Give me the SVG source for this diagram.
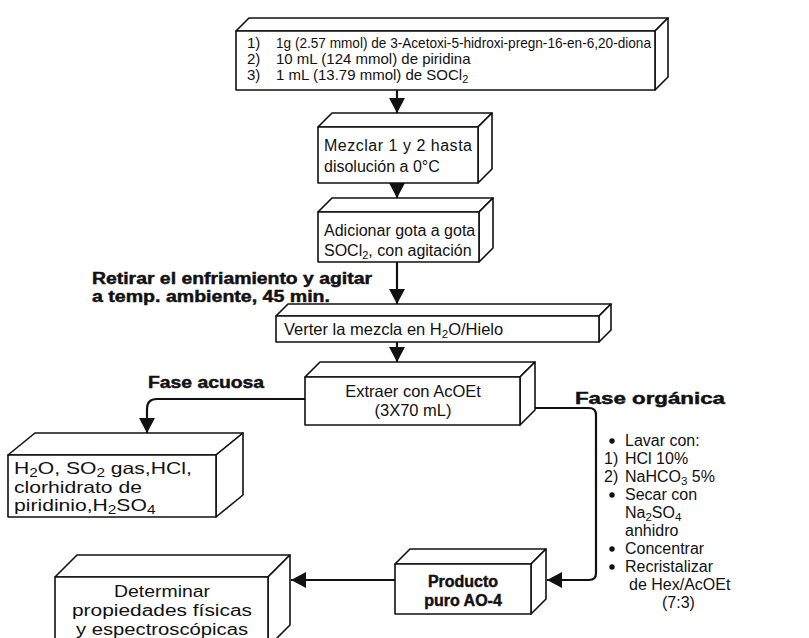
<svg xmlns="http://www.w3.org/2000/svg" width="809" height="638" viewBox="0 0 809 638">
  <style>
    .face { fill: #ffffff; stroke: #111111; stroke-width: 1.6; stroke-linejoin: round; }
    .t { font-family: "Liberation Sans", Arial, sans-serif; font-size: 16px; fill: #111111; }
    .s { font-size: 15px; }
    .l { font-size: 16.5px; }
    .b { font-weight: bold; stroke: #111111; stroke-width: 0.45; }
    .m { text-anchor: middle; }
    .conn { fill: none; stroke: #111111; stroke-width: 2.2; }
  </style>
  <defs>
    <marker id="arrow" markerUnits="userSpaceOnUse" markerWidth="16" markerHeight="16" viewBox="0 0 16 16" refX="15" refY="8" orient="auto">
      <path d="M0,0 L15,8 L0,16 z" fill="#111111"/>
    </marker>
  </defs>
  <rect width="809" height="638" fill="#ffffff"/>

  <!-- connectors -->
  <g id="connectors">
    <path class="conn" d="M397,90 V113" marker-end="url(#arrow)"/>
    <path class="conn" d="M397,183 V198" marker-end="url(#arrow)"/>
    <path class="conn" d="M397,262 V304" marker-end="url(#arrow)"/>
    <path class="conn" d="M397,342 V362" marker-end="url(#arrow)"/>
    <path class="conn" d="M305,399 H157 Q147,399 147,409 V433" marker-end="url(#arrow)"/>
    <path class="conn" d="M535,408 H589 Q596,408 596,415 V573 Q596,580 589,580 H547" marker-end="url(#arrow)"/>
    <path class="conn" d="M395,580 H291" marker-end="url(#arrow)"/>
  </g>

  <!-- reagents -->
  <g id="reactivos">
    <polygon class="face" points="236,31 249,18 668,18 655,31"/>
    <polygon class="face" points="655,31 668,18 668,77 655,90"/>
    <rect class="face" x="236" y="31" width="419" height="59"/>
    <text class="t s" x="247" y="48">1)</text>
    <text class="t s" x="276" y="48" textLength="375" lengthAdjust="spacingAndGlyphs">1g (2.57 mmol) de 3-Acetoxi-5-hidroxi-pregn-16-en-6,20-diona</text>
    <text class="t s" x="247" y="64">2)</text>
    <text class="t s" x="276" y="64">10 mL (124 mmol) de piridina</text>
    <text class="t s" x="247" y="80">3)</text>
    <text class="t s" x="276" y="80">1 mL (13.79 mmol) de SOCl<tspan dy="3" font-size="11">2</tspan></text>
  </g>

  <g id="mezclar">
    <polygon class="face" points="318,127 332,113 492,113 478,127"/>
    <polygon class="face" points="478,127 492,113 492,169 478,183"/>
    <rect class="face" x="318" y="127" width="160" height="56"/>
    <text class="t" x="324" y="151" textLength="148" lengthAdjust="spacing">Mezclar 1 y 2 hasta</text>
    <text class="t" x="324" y="172">disolución a 0°C</text>
  </g>

  <g id="adicionar">
    <polygon class="face" points="318,212 332,198 493,198 479,212"/>
    <polygon class="face" points="479,212 493,198 493,248 479,262"/>
    <rect class="face" x="318" y="212" width="161" height="50"/>
    <text class="t" x="324" y="236">Adicionar gota a gota</text>
    <text class="t" x="324" y="256">SOCl<tspan dy="3" font-size="11">2</tspan><tspan dy="-3">, con agitación</tspan></text>
  </g>

  <text class="t b" x="92" y="284" textLength="280" lengthAdjust="spacingAndGlyphs">Retirar el enfriamiento y agitar</text>
  <text class="t b" x="92" y="302" textLength="238" lengthAdjust="spacingAndGlyphs">a temp. ambiente, 45 min.</text>

  <g id="verter">
    <polygon class="face" points="276,316 288,304 611,304 599,316"/>
    <polygon class="face" points="599,316 611,304 611,330 599,342"/>
    <rect class="face" x="276" y="316" width="323" height="26"/>
    <text class="t l" x="284" y="335">Verter la mezcla en H<tspan dy="3" font-size="11.5">2</tspan><tspan dy="-3">O/Hielo</tspan></text>
  </g>

  <text class="t b" x="148" y="388" textLength="116" lengthAdjust="spacingAndGlyphs">Fase acuosa</text>
  <text class="t b" x="575" y="404" textLength="150" lengthAdjust="spacingAndGlyphs">Fase orgánica</text>

  <g id="extraer">
    <polygon class="face" points="305,377 320,362 535,362 520,377"/>
    <polygon class="face" points="520,377 535,362 535,410 520,425"/>
    <rect class="face" x="305" y="377" width="215" height="48"/>
    <text class="t l m" x="413" y="397">Extraer con AcOEt</text>
    <text class="t l m" x="413" y="416">(3X70 mL)</text>
  </g>

  <g id="fase-acuosa">
    <polygon class="face" points="8,455 35,433 243,433 216,455"/>
    <polygon class="face" points="216,455 243,433 243,495 216,517"/>
    <rect class="face" x="8" y="455" width="208" height="62"/>
    <!-- wide lettering: the text block is stretched horizontally -->
    <g transform="translate(14,0) scale(1.28,1)">
      <text class="t l" x="0" y="474">H<tspan dy="3" font-size="12">2</tspan><tspan dy="-3">O, SO</tspan><tspan dy="3" font-size="12">2</tspan><tspan dy="-3"> gas,HCl,</tspan></text>
      <text class="t l" x="0" y="493">clorhidrato de</text>
      <text class="t l" x="0" y="511">piridinio,H<tspan dy="3" font-size="12">2</tspan><tspan dy="-3">SO</tspan><tspan dy="3" font-size="12">4</tspan></text>
    </g>
  </g>

  <g id="fase-organica">
    <circle cx="612" cy="441" r="2.7" fill="#111111"/>
    <text class="t" x="625" y="446">Lavar con:</text>
    <text class="t" x="604" y="464">1)</text>
    <text class="t" x="625" y="464">HCl 10%</text>
    <text class="t" x="604" y="482">2)</text>
    <text class="t" x="625" y="482">NaHCO<tspan dy="3" font-size="11.5">3</tspan><tspan dy="-3"> 5%</tspan></text>
    <circle cx="612" cy="495" r="2.7" fill="#111111"/>
    <text class="t" x="625" y="500">Secar con</text>
    <text class="t" x="625" y="518">Na<tspan dy="3" font-size="11.5">2</tspan><tspan dy="-3">SO</tspan><tspan dy="3" font-size="11.5">4</tspan></text>
    <text class="t" x="625" y="536">anhidro</text>
    <circle cx="612" cy="549" r="2.7" fill="#111111"/>
    <text class="t" x="625" y="554">Concentrar</text>
    <circle cx="612" cy="567" r="2.7" fill="#111111"/>
    <text class="t" x="625" y="572">Recristalizar</text>
    <text class="t" x="629" y="590">de Hex/AcOEt</text>
    <text class="t" x="662" y="608">(7:3)</text>
  </g>

  <g id="producto">
    <polygon class="face" points="395,564 410,549 546,549 531,564"/>
    <polygon class="face" points="531,564 546,549 546,599 531,614"/>
    <rect class="face" x="395" y="564" width="136" height="50"/>
    <text class="t b m" x="463" y="587" font-size="17">Producto</text>
    <text class="t b m" x="463" y="606" font-size="17">puro AO-4</text>
  </g>

  <g id="determinar">
    <polygon class="face" points="55,577 77,555 290,555 268,577"/>
    <polygon class="face" points="268,577 290,555 290,625 268,647"/>
    <rect class="face" x="55" y="577" width="213" height="70"/>
    <text class="t m" x="162" y="597" font-size="17" textLength="96" lengthAdjust="spacingAndGlyphs">Determinar</text>
    <text class="t m" x="162" y="616" font-size="17" textLength="180" lengthAdjust="spacingAndGlyphs">propiedades físicas</text>
    <text class="t m" x="162" y="635" font-size="17" textLength="172" lengthAdjust="spacingAndGlyphs">y espectroscópicas</text>
  </g>
</svg>
